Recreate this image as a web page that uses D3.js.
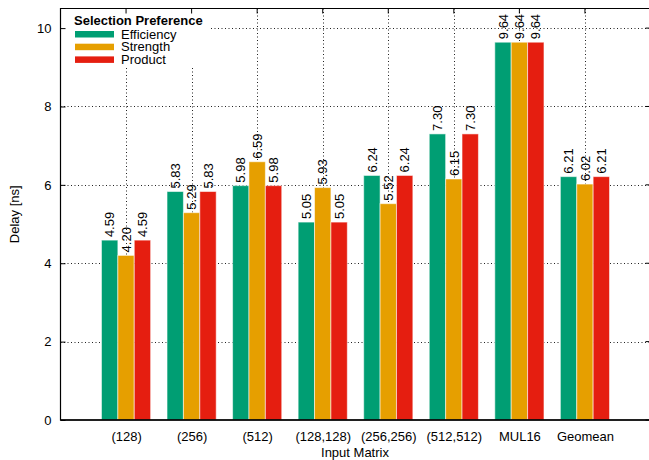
<!DOCTYPE html>
<html>
<head>
<meta charset="utf-8">
<script src="https://cdn.jsdelivr.net/npm/d3@7"></script>
<style>
  html, body { margin: 0; padding: 0; background: #fff; }
  svg { display: block; font-family: "Liberation Sans", Arial, Helvetica, sans-serif; }
</style>
</head>
<body>
<svg id="chart" width="649" height="460"></svg>
<script>
// Delay per input matrix for each selection preference
const categories = ["(128)", "(256)", "(512)", "(128,128)", "(256,256)", "(512,512)", "MUL16", "Geomean"];
const seriesNames = ["Efficiency", "Strength", "Product"];
const efficiency = [4.59, 5.83, 5.98, 5.05, 6.24, 7.30, 9.64, 6.21];
const strength   = [4.20, 5.29, 6.59, 5.93, 5.52, 6.15, 9.64, 6.02];
const product    = [4.59, 5.83, 5.98, 5.05, 6.24, 7.30, 9.64, 6.21];
const yTicks = [0, 2, 4, 6, 8, 10];
const colors = ["#009e73", "#e69f00", "#e51e10"];

const series = [efficiency, strength, product];
const fontSize = 13;

const svg = d3.select("#chart");
const plotLeft = 60.5, plotRight = 650.5, plotTop = 8.5, plotBottom = 420;

// Histogram-style x axis: group i sits at x = i, frame spans -1 .. n
const x = d3.scaleLinear().domain([-1, categories.length]).range([plotLeft, plotRight]);
const y = d3.scaleLinear().domain([0, 10.5]).range([plotBottom, plotTop]);
const boxW = 1 / (seriesNames.length + 1);

const grid = svg.append("g").attr("stroke", "#222").attr("stroke-width", 1)
  .attr("stroke-dasharray", "1,2.5");
// horizontal grid
grid.selectAll("line.h").data(yTicks.filter(d => d > 0)).join("line")
  .attr("class", "h")
  .attr("x1", plotLeft).attr("x2", plotRight)
  .attr("y1", d => Math.round(y(d)) + 0.5).attr("y2", d => Math.round(y(d)) + 0.5);
// vertical grid
grid.selectAll("line.v").data(categories.map((c, i) => i)).join("line")
  .attr("class", "v")
  .attr("x1", d => Math.round(x(d)) + 0.5).attr("x2", d => Math.round(x(d)) + 0.5)
  .attr("y1", plotTop).attr("y2", plotBottom);

// bars
const barData = [];
categories.forEach((c, i) => {
  series.forEach((s, k) => {
    barData.push({ i, k, v: s[i], cx: i + (k - (seriesNames.length - 1) / 2) * boxW });
  });
});

svg.append("g").selectAll("rect").data(barData).join("rect")
  .attr("x", d => x(d.cx - boxW / 2))
  .attr("width", d => x(d.cx + boxW / 2) - x(d.cx - boxW / 2))
  .attr("y", d => y(d.v))
  .attr("height", d => y(0) - y(d.v))
  .attr("fill", d => colors[d.k])
  .attr("stroke", "#fff").attr("stroke-opacity", 0.55).attr("stroke-width", 1);

// value labels
svg.append("g").selectAll("text").data(barData).join("text")
  .attr("transform", d => `translate(${x(d.cx)},${y(d.v) - 3}) rotate(-90)`)
  .attr("dy", "0.36em")
  .attr("text-anchor", "start")
  .attr("font-size", fontSize)
  .attr("fill", "#000")
  .text(d => d.v.toFixed(2));

// legend (white box over the grid)
const lg = svg.append("g");
lg.append("rect").attr("x", plotLeft + 0.5).attr("y", plotTop + 0.5).attr("width", 148).attr("height", 57)
  .attr("fill", "#fff");
lg.append("text").attr("x", 74).attr("y", 25).attr("font-size", fontSize).attr("font-weight", "bold")
  .text("Selection Preference");
seriesNames.forEach((n, k) => {
  lg.append("rect").attr("x", 75).attr("y", 31 + k * 12.7).attr("width", 39).attr("height", 6.5)
    .attr("fill", colors[k]);
  lg.append("text").attr("x", 121).attr("y", 38.5 + k * 12.7).attr("font-size", fontSize).text(n);
});

// y axis
const yAxis = svg.append("g").attr("transform", `translate(${plotLeft},0)`)
  .call(d3.axisLeft(y).tickValues(yTicks).tickSizeInner(-5).tickSizeOuter(0).tickPadding(9));
yAxis.select(".domain").remove();
yAxis.selectAll("text").attr("font-size", fontSize).attr("font-family", "Liberation Sans, Arial, sans-serif").attr("fill", "#000");
yAxis.selectAll("line").attr("stroke", "#000");

// mirrored ticks on the right side
svg.append("g").selectAll("line").data(yTicks).join("line")
  .attr("x1", plotRight).attr("x2", plotRight - 5)
  .attr("y1", d => y(d)).attr("y2", d => y(d)).attr("stroke", "#000");

// x axis labels
const xAxis = svg.append("g").attr("transform", `translate(0,${plotBottom})`)
  .call(d3.axisBottom(x).tickValues(categories.map((c, i) => i))
    .tickFormat(i => categories[i]).tickSize(0).tickPadding(12));
xAxis.select(".domain").remove();
xAxis.selectAll("text").attr("font-size", fontSize).attr("font-family", "Liberation Sans, Arial, sans-serif").attr("fill", "#000");

// mirrored ticks on top
svg.append("g").selectAll("line").data(categories.map((c, i) => i)).join("line")
  .attr("x1", d => x(d)).attr("x2", d => x(d))
  .attr("y1", plotTop).attr("y2", plotTop + 5).attr("stroke", "#000");

// frame
svg.append("path")
  .attr("d", `M${plotRight},${plotTop}H${plotLeft}V${plotBottom}H${plotRight}`)
  .attr("fill", "none").attr("stroke", "#000").attr("stroke-width", 1.2);
svg.append("line").attr("x1", plotLeft).attr("x2", plotRight).attr("y1", plotBottom).attr("y2", plotBottom)
  .attr("stroke", "#000").attr("stroke-width", 1.6);

// axis titles
svg.append("text").attr("x", 355).attr("y", 457).attr("text-anchor", "middle")
  .attr("font-size", fontSize).text("Input Matrix");
svg.append("text").attr("transform", `translate(19,${(plotTop + plotBottom) / 2}) rotate(-90)`)
  .attr("text-anchor", "middle").attr("font-size", fontSize).text("Delay [ns]");
</script>
</body>
</html>
